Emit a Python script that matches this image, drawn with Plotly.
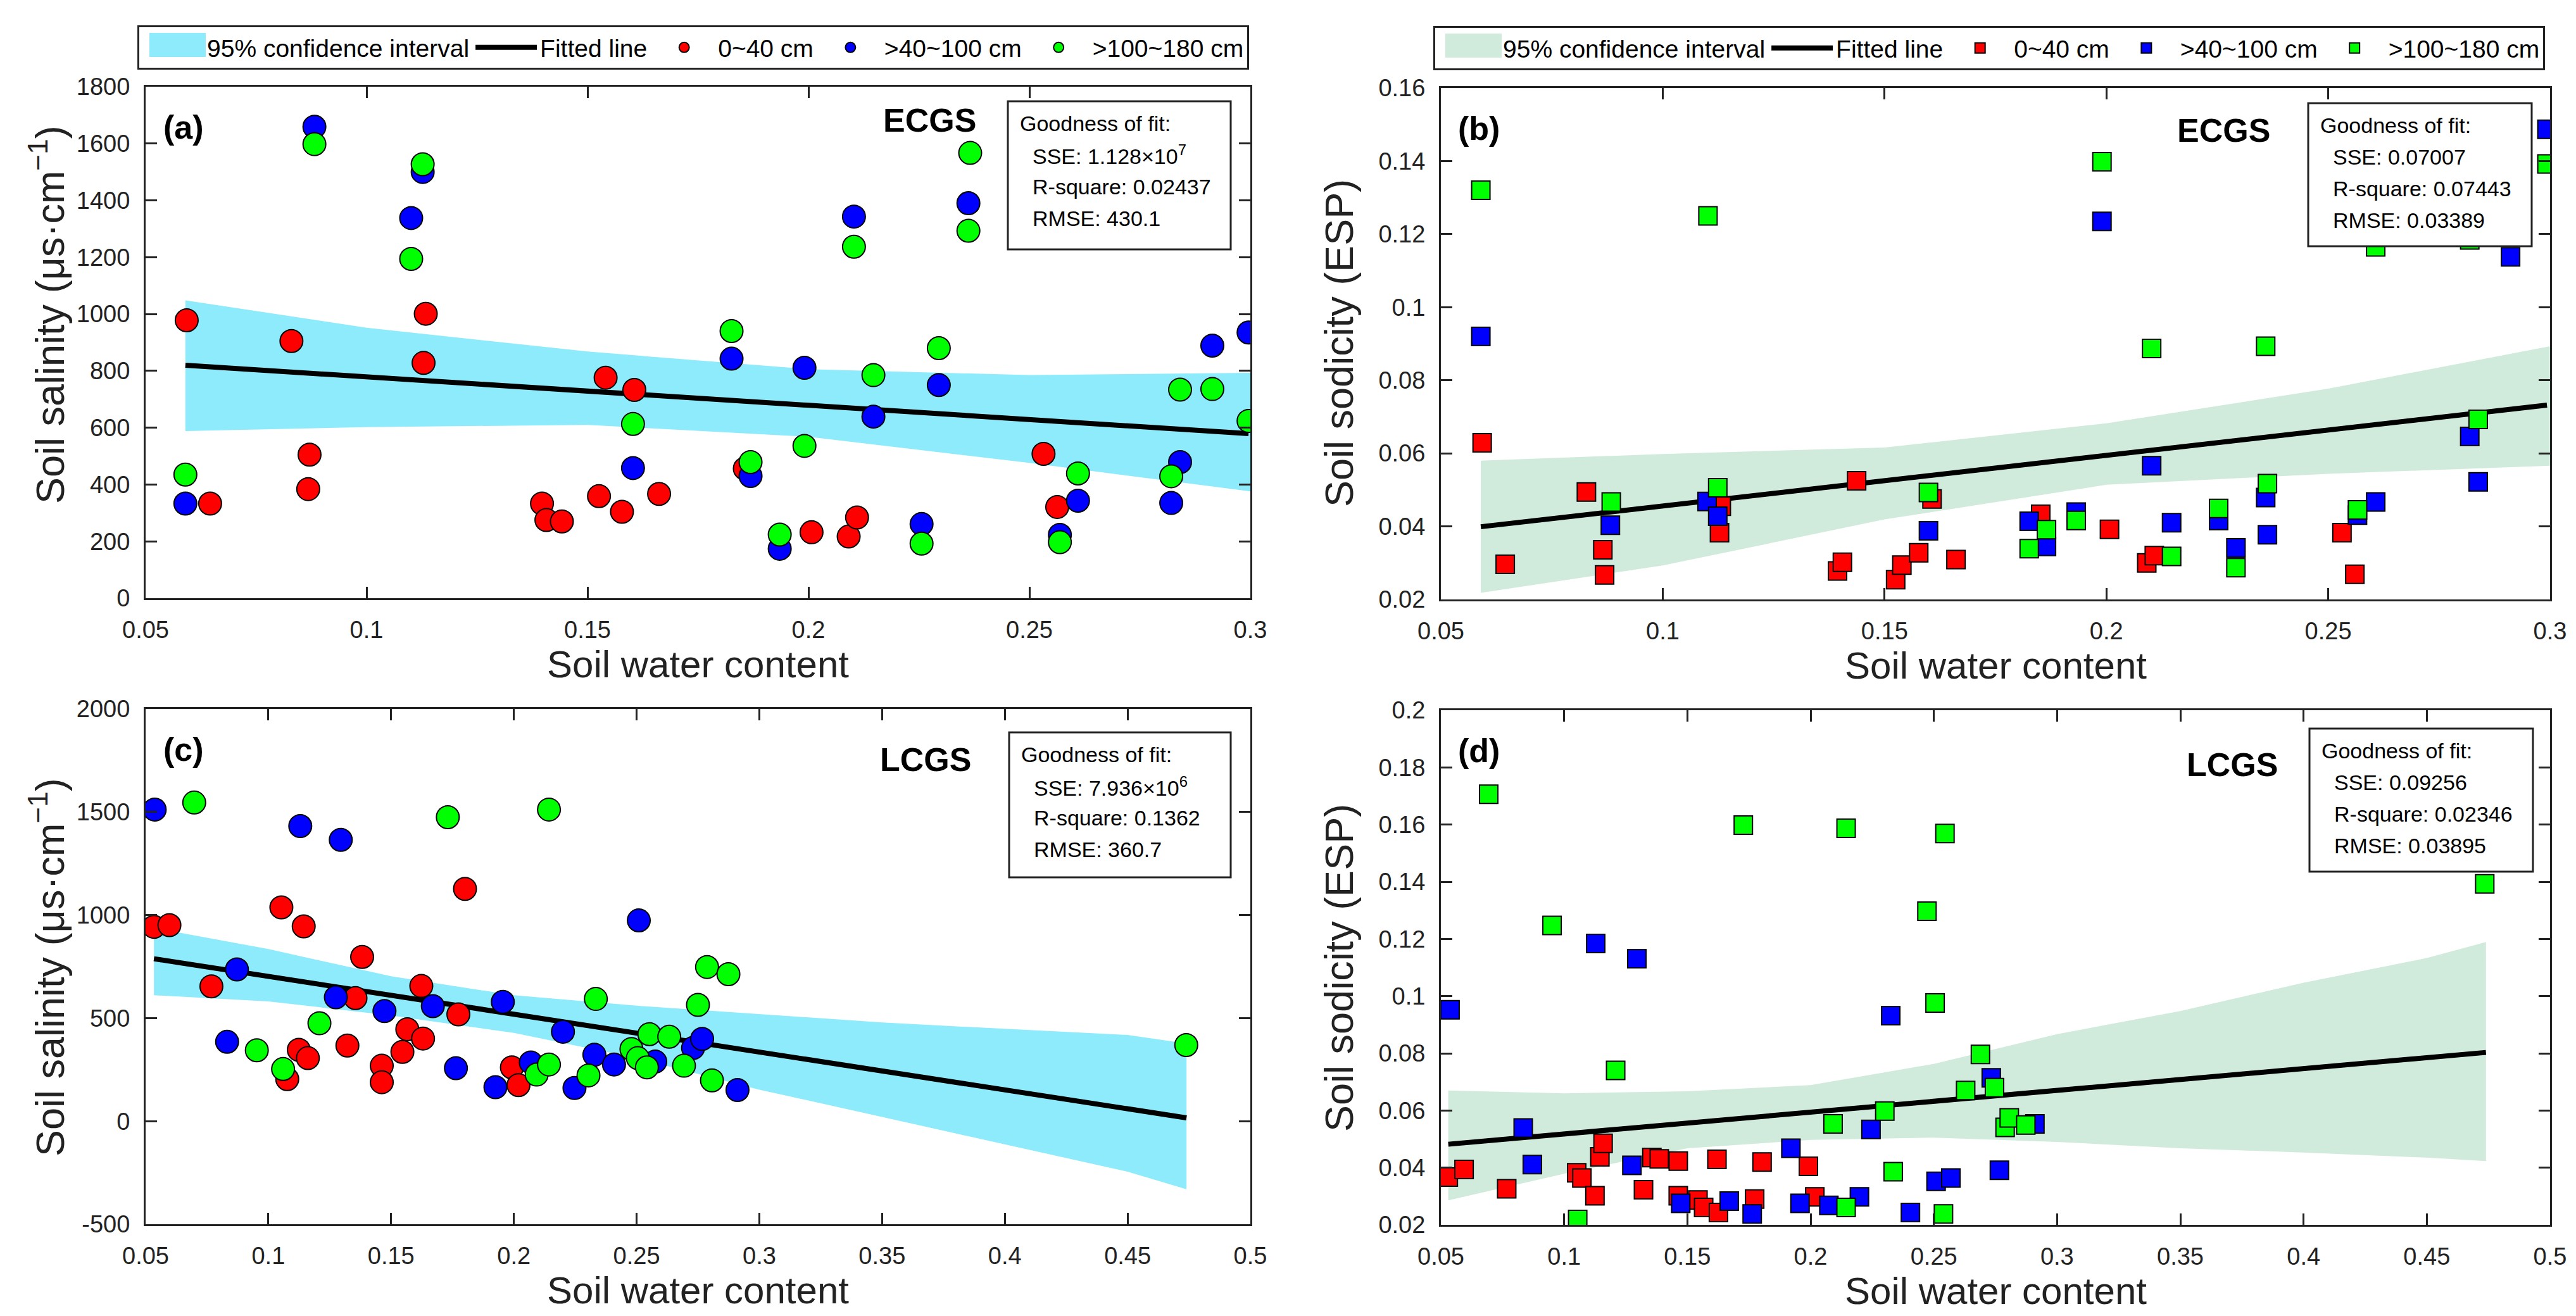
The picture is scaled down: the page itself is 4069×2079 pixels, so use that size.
import plotly.graph_objects as go

W, H = 4069, 2079

# ---- panel (a): ECGS, soil salinity ----
a_x_0_40 = [0.0593, 0.0646, 0.0830, 0.0871, 0.0868, 0.1134, 0.1129, 0.1397, 0.1407, 0.1442, 0.1526,
            0.1541, 0.1578, 0.1606, 0.1662, 0.1856, 0.2007, 0.2091, 0.2110, 0.2532, 0.2563]
a_y_0_40 = [978, 333, 905, 505, 384, 1001, 828, 333, 275, 270, 359, 776, 304, 733, 367, 456, 232, 217,
            284, 508, 321]
a_x_40_100 = [0.0590, 0.0882, 0.1127, 0.1101, 0.1603, 0.1826, 0.1869, 0.1935, 0.1991, 0.2103, 0.2147,
              0.2256, 0.2295, 0.2362, 0.2569, 0.2610, 0.2821, 0.2841, 0.2914, 0.2996]
a_y_40_100 = [333, 1659, 1500, 1338, 458, 843, 430, 174, 811, 1343, 639, 261, 750, 1390, 223, 343, 335,
              479, 889, 935]
a_x_100_180 = [0.0590, 0.0882, 0.1127, 0.1101, 0.1603, 0.1826, 0.1869, 0.1935, 0.1991, 0.2103, 0.2147,
               0.2256, 0.2295, 0.2366, 0.2362, 0.2569, 0.2610, 0.2821, 0.2841, 0.2914, 0.2996]
a_y_100_180 = [435, 1598, 1527, 1194, 613, 940, 479, 224, 536, 1237, 785, 192, 880, 1567, 1293, 197,
               439, 429, 734, 736, 624]
a_ci_x = [0.059, 0.10, 0.15, 0.20, 0.25, 0.30]
a_ci_hi = [1048, 952, 868, 806, 785, 793]
a_ci_lo = [588, 602, 610, 568, 476, 376]
a_fit_x = [0.059, 0.2996]
a_fit_y = [820, 579]

# ---- panel (b): ECGS, soil sodicity ----
b_x_0_40 = [0.0593, 0.0645, 0.0828, 0.0865, 0.0869, 0.1128, 0.1132, 0.1394, 0.1405, 0.1437, 0.1525,
            0.1539, 0.1577, 0.1607, 0.1661, 0.1852, 0.2007, 0.2091, 0.2108, 0.2531, 0.2560]
b_y_0_40 = [0.0629, 0.0296, 0.0494, 0.0336, 0.0267, 0.0383, 0.0455, 0.0278, 0.0302, 0.0525, 0.0254,
            0.0294, 0.0328, 0.0475, 0.0309, 0.0433, 0.0392, 0.0300, 0.0320, 0.0383, 0.0269]
b_x_40_100 = [0.0590, 0.0882, 0.1100, 0.1124, 0.1599, 0.1826, 0.1865, 0.1932, 0.1990, 0.2102, 0.2147,
              0.2253, 0.2292, 0.2359, 0.2363, 0.2566, 0.2607, 0.2819, 0.2838, 0.2911, 0.2993]
b_y_40_100 = [0.0920, 0.0403, 0.0468, 0.0428, 0.0388, 0.0414, 0.0345, 0.0439, 0.1235, 0.0566, 0.0410,
              0.0416, 0.0341, 0.0479, 0.0377, 0.0431, 0.0467, 0.0646, 0.0522, 0.1138, 0.1487]
b_x_100_180 = [0.0590, 0.1102, 0.0884, 0.1124, 0.1599, 0.1826, 0.1865, 0.1932, 0.1990, 0.2102, 0.2147,
               0.2253, 0.2292, 0.2359, 0.2363, 0.2566, 0.2607, 0.2819, 0.2838, 0.2911, 0.2993]
b_y_100_180 = [0.1320, 0.1250, 0.0467, 0.0506, 0.0493, 0.0339, 0.0391, 0.0416, 0.1398, 0.0887, 0.0318,
               0.0449, 0.0287, 0.0893, 0.0517, 0.0445, 0.1165, 0.1184, 0.0693, 0.1447, 0.1392]
b_ci_x = [0.059, 0.10, 0.15, 0.20, 0.25, 0.30]
b_ci_hi = [0.0580, 0.0598, 0.0616, 0.0682, 0.0777, 0.0893]
b_ci_lo = [0.0218, 0.0293, 0.0419, 0.0514, 0.0544, 0.0566]
b_fit_x = [0.059, 0.2993]
b_fit_y = [0.0399, 0.0732]

# ---- panel (c): LCGS, soil salinity ----
c_x_0_40 = [0.0534, 0.0597, 0.0768, 0.1053, 0.1144, 0.1382, 0.1077, 0.1124, 0.1161, 0.1322, 0.1355,
            0.1462, 0.1462, 0.1546, 0.1566, 0.1630, 0.1623, 0.1774, 0.1801, 0.1992, 0.2019]
c_y_0_40 = [943, 951, 654, 1037, 945, 797, 204, 346, 306, 367, 597, 269, 189, 336, 446, 401, 656, 518,
            1127, 261, 175]
c_x_40_100 = [0.0537, 0.0872, 0.0832, 0.1130, 0.1295, 0.1275, 0.1473, 0.1670, 0.1764, 0.1925, 0.1955,
              0.2069, 0.2200, 0.2247, 0.2328, 0.2408, 0.2509, 0.2576, 0.2730, 0.2767, 0.2911]
c_y_40_100 = [1512, 736, 385, 1432, 1365, 601, 534, 558, 257, 165, 579, 285, 434, 161, 322, 275, 974,
              289, 355, 399, 151]
c_x_100_180 = [0.0698, 0.0953, 0.1060, 0.1208, 0.1731, 0.2093, 0.2143, 0.2143, 0.2304, 0.2334, 0.2479,
               0.2505, 0.2542, 0.2552, 0.2633, 0.2693, 0.2750, 0.2787, 0.2807, 0.2874, 0.4739]
c_y_100_180 = [1546, 344, 253, 475, 1475, 226, 1512, 275, 222, 593, 350, 306, 261, 422, 410, 269, 564,
               748, 198, 713, 369]
c_ci_x = [0.0534, 0.10, 0.15, 0.20, 0.25, 0.30, 0.35, 0.40, 0.45, 0.474]
c_ci_hi = [937, 835, 703, 611, 560, 520, 479, 448, 418, 377]
c_ci_lo = [611, 581, 513, 428, 306, 153, 20, -112, -245, -330]
c_fit_x = [0.0534, 0.474]
c_fit_y = [788, 16]

# ---- panel (d): LCGS, soil sodicity ----
d_x_0_40 = [0.0530, 0.0594, 0.0767, 0.1051, 0.1072, 0.1125, 0.1145, 0.1158, 0.1322, 0.1356, 0.1386,
            0.1463, 0.1463, 0.1543, 0.1566, 0.1626, 0.1620, 0.1773, 0.1803, 0.1991, 0.2017]
d_y_0_40 = [0.0367, 0.0394, 0.0326, 0.0382, 0.0364, 0.0302, 0.0438, 0.0485, 0.0323, 0.0435, 0.0431,
            0.0423, 0.0302, 0.0287, 0.0261, 0.0243, 0.0429, 0.0290, 0.0420, 0.0405, 0.0298]
d_x_40_100 = [0.0537, 0.0834, 0.0871, 0.1128, 0.1295, 0.1275, 0.1473, 0.1670, 0.1763, 0.1920, 0.1957,
              0.2074, 0.2198, 0.2245, 0.2325, 0.2405, 0.2509, 0.2569, 0.2733, 0.2766, 0.2910]
d_y_40_100 = [0.0952, 0.0539, 0.0411, 0.1184, 0.1131, 0.0408, 0.0275, 0.0283, 0.0238, 0.0468, 0.0275,
              0.0268, 0.0298, 0.0534, 0.0932, 0.0243, 0.0352, 0.0364, 0.0714, 0.0391, 0.0553]
d_x_100_180 = [0.0694, 0.0951, 0.1055, 0.1209, 0.1727, 0.2091, 0.2144, 0.2144, 0.2301, 0.2335, 0.2472,
               0.2505, 0.2545, 0.2539, 0.2629, 0.2689, 0.2746, 0.2789, 0.2806, 0.2873, 0.4735]
d_y_100_180 = [0.1706, 0.1247, 0.0219, 0.0740, 0.1598, 0.0553, 0.1587, 0.0261, 0.0598, 0.0386, 0.1297,
               0.0976, 0.1569, 0.0238, 0.0670, 0.0796, 0.0680, 0.0541, 0.0574, 0.0549, 0.1393]
d_ci_x = [0.053, 0.10, 0.15, 0.20, 0.25, 0.30, 0.35, 0.40, 0.45, 0.474]
d_ci_hi = [0.0670, 0.0660, 0.0667, 0.0689, 0.0763, 0.0867, 0.0948, 0.1047, 0.1133, 0.1189]
d_ci_lo = [0.0286, 0.0379, 0.0468, 0.0497, 0.0505, 0.0490, 0.0468, 0.0453, 0.0435, 0.0423]
d_fit_x = [0.053, 0.474]
d_fit_y = [0.0482, 0.0803]

# tick labels
x_ticks_short = [0.05, 0.1, 0.15, 0.2, 0.25, 0.3]
x_ticks_long = [0.05, 0.1, 0.15, 0.2, 0.25, 0.3, 0.35, 0.4, 0.45, 0.5]
a_y_ticks = [0, 200, 400, 600, 800, 1000, 1200, 1400, 1600, 1800]
b_y_ticks = [0.02, 0.04, 0.06, 0.08, 0.1, 0.12, 0.14, 0.16]
c_y_ticks = [-500, 0, 500, 1000, 1500, 2000]
d_y_ticks = [0.02, 0.04, 0.06, 0.08, 0.1, 0.12, 0.14, 0.16, 0.18, 0.2]

depth_names = ["0~40 cm", ">40~100 cm", ">100~180 cm"]
depth_colors = ["#FF0000", "#0000FF", "#00FF00"]

FONT = "Liberation Sans, Arial, Helvetica, sans-serif"
INK = "#222222"
CYAN = "#8DEBFB"
MINT = "#D0EADB"


def px(x):
    return x / W


def py(y):
    return 1 - y / H


fig = go.Figure()


def add_panel(n, xs, ys, ci_x, ci_lo, ci_hi, fit_x, fit_y, symbol, size, band, legend):
    sfx = "" if n == 1 else str(n)
    show = n in (1, 2)
    fig.add_trace(go.Scatter(
        x=ci_x + ci_x[::-1], y=ci_hi + ci_lo[::-1], fill="toself", fillcolor=band,
        line=dict(width=0), mode="lines", name="95% confidence interval",
        xaxis="x" + sfx, yaxis="y" + sfx, showlegend=False, hoverinfo="skip"))
    if show:
        # legend entry only; its swatch is drawn as a shape under the legend
        fig.add_trace(go.Scatter(
            x=[None], y=[None], mode="lines", line=dict(color="rgba(0,0,0,0)", width=0),
            name="95% confidence interval", xaxis="x" + sfx, yaxis="y" + sfx, legend=legend))
    fig.add_trace(go.Scatter(
        x=fit_x, y=fit_y, mode="lines", line=dict(color="black", width=8), name="Fitted line",
        xaxis="x" + sfx, yaxis="y" + sfx, legend=legend, showlegend=show))
    for xv, yv, nm, col in zip(xs, ys, depth_names, depth_colors):
        fig.add_trace(go.Scatter(
            x=xv, y=yv, mode="markers", name=nm,
            marker=dict(symbol=symbol, size=size, color=col, line=dict(color="black", width=2)),
            xaxis="x" + sfx, yaxis="y" + sfx, legend=legend, showlegend=show))


add_panel(1, [a_x_0_40, a_x_40_100, a_x_100_180], [a_y_0_40, a_y_40_100, a_y_100_180],
          a_ci_x, a_ci_lo, a_ci_hi, a_fit_x, a_fit_y, "circle", 36, CYAN, "legend")
add_panel(2, [b_x_0_40, b_x_40_100, b_x_100_180], [b_y_0_40, b_y_40_100, b_y_100_180],
          b_ci_x, b_ci_lo, b_ci_hi, b_fit_x, b_fit_y, "square", 29, MINT, "legend2")
add_panel(3, [c_x_0_40, c_x_40_100, c_x_100_180], [c_y_0_40, c_y_40_100, c_y_100_180],
          c_ci_x, c_ci_lo, c_ci_hi, c_fit_x, c_fit_y, "circle", 36, CYAN, "legend")
add_panel(4, [d_x_0_40, d_x_40_100, d_x_100_180], [d_y_0_40, d_y_40_100, d_y_100_180],
          d_ci_x, d_ci_lo, d_ci_hi, d_fit_x, d_fit_y, "square", 29, MINT, "legend2")

# pixel boxes of the four plot areas: left, top, right, bottom
boxes = {1: (222, 129, 1967, 937), 2: (2268, 131, 4020, 939),
         3: (222, 1112, 1967, 1926), 4: (2268, 1114, 4020, 1927)}
xr = {1: [0.05, 0.3], 2: [0.05, 0.3], 3: [0.05, 0.5], 4: [0.05, 0.5]}
yr = {1: [0, 1800], 2: [0.02, 0.16], 3: [-500, 2000], 4: [0.02, 0.2]}
xt = {1: x_ticks_short, 2: x_ticks_short, 3: x_ticks_long, 4: x_ticks_long}
yt = {1: a_y_ticks, 2: b_y_ticks, 3: c_y_ticks, 4: d_y_ticks}

axis_common = dict(showline=True, linecolor=INK, linewidth=3, mirror="ticks", ticks="inside",
                   ticklen=18, tickwidth=3, tickcolor=INK, showgrid=False, zeroline=False,
                   automargin=False, tickfont=dict(family=FONT, size=38, color=INK))
for n, (l, t, r, b) in boxes.items():
    sfx = "" if n == 1 else str(n)
    fig.layout["xaxis" + sfx] = dict(
        axis_common, domain=[px(l), px(r)], range=xr[n], anchor="y" + sfx,
        tickvals=xt[n], ticktext=["%g" % v for v in xt[n]], ticklabelstandoff=14)
    fig.layout["yaxis" + sfx] = dict(
        axis_common, domain=[py(b), py(t)], range=yr[n], anchor="x" + sfx,
        tickvals=yt[n], ticktext=["%g" % v for v in yt[n]], ticklabelstandoff=14)

# axis titles: (text, x centre, y centre) in pixels
ytitles = {1: ("Soil salinity (μs·cm<sup>−1</sup>)", 66, 489), 2: ("Soil sodicity (ESP)", 2107, 534),
           3: ("Soil salinity (μs·cm<sup>−1</sup>)", 66, 1520), 4: ("Soil sodicity (ESP)", 2107, 1521)}
xtitle_gap = 104

# goodness-of-fit boxes and panel labels
fit_lines = {
    1: ["Goodness of fit:", "SSE: 1.128×10<sup>7</sup>", "R-square: 0.02437", "RMSE: 430.1"],
    2: ["Goodness of fit:", "SSE: 0.07007", "R-square: 0.07443", "RMSE: 0.03389"],
    3: ["Goodness of fit:", "SSE: 7.936×10<sup>6</sup>", "R-square: 0.1362", "RMSE: 360.7"],
    4: ["Goodness of fit:", "SSE: 0.09256", "R-square: 0.02346", "RMSE: 0.03895"],
}
fit_box = {1: (1584, 152, 1936, 386), 2: (3638, 155, 3991, 381),
           3: (1586, 1149, 1936, 1378), 4: (3640, 1143, 3993, 1369)}
tags = {1: "(a)", 2: "(b)", 3: "(c)", 4: "(d)"}
site = {1: ("ECGS", 1460, 182), 2: ("ECGS", 3504, 198), 3: ("LCGS", 1454, 1192), 4: ("LCGS", 3518, 1200)}


def label(x, y, text, size, color="black", xanchor="center", **kw):
    return dict(xref="paper", yref="paper", x=px(x), y=py(y), text=text, showarrow=False,
                xanchor=xanchor, yanchor="middle", font=dict(family=FONT, size=size, color=color), **kw)


shapes = []
annotations = []
for n in boxes:
    pl, pt, pr, pb = boxes[n]
    l, t, r, b = fit_box[n]
    shapes.append(dict(type="rect", xref="paper", yref="paper", x0=px(l), x1=px(r), y0=py(b), y1=py(t),
                       line=dict(color=INK, width=3), fillcolor="white", layer="above"))
    for i, line in enumerate(fit_lines[n]):
        annotations.append(label(l + (17 if i == 0 else 37), t + 35 + 50 * i, line, 34, xanchor="left"))
    annotations.append(label(pl + 60, pt + 64, "<b>" + tags[n] + "</b>", 52))
    s, sx, sy = site[n]
    annotations.append(label(sx, sy, "<b>" + s + "</b>", 52))
    yt_text, tx, ty = ytitles[n]
    annotations.append(label(tx, ty, yt_text, 63, color=INK, textangle=-90))
    annotations.append(label((pl + pr) / 2, pb + xtitle_gap, "Soil water content", 60, color=INK))

# legend boxes (left, top) and the band swatches sitting under their transparent legends
legend_pos = {"legend": (209, 32, CYAN), "legend2": (2256, 33, MINT)}
for name, (lx, ly, col) in legend_pos.items():
    shapes.append(dict(type="rect", xref="paper", yref="paper", x0=px(lx + 19), x1=px(lx + 108),
                       y0=py(ly + 50), y1=py(ly + 12), line=dict(width=0), fillcolor=col, layer="above"))

legend_common = dict(orientation="h", xanchor="left", yanchor="top", bgcolor="rgba(0,0,0,0)",
                     bordercolor=INK, borderwidth=3, itemwidth=97,
                     font=dict(family=FONT, size=39, color="black"), tracegroupgap=0)

fig.update_layout(
    template="none",
    width=W, height=H, margin=dict(l=0, r=0, t=0, b=0),
    paper_bgcolor="white", plot_bgcolor="white",
    legend=dict(legend_common, x=px(legend_pos["legend"][0]), y=py(legend_pos["legend"][1])),
    legend2=dict(legend_common, x=px(legend_pos["legend2"][0]), y=py(legend_pos["legend2"][1])),
    shapes=shapes, annotations=annotations,
)

fig.write_html("out.html")
